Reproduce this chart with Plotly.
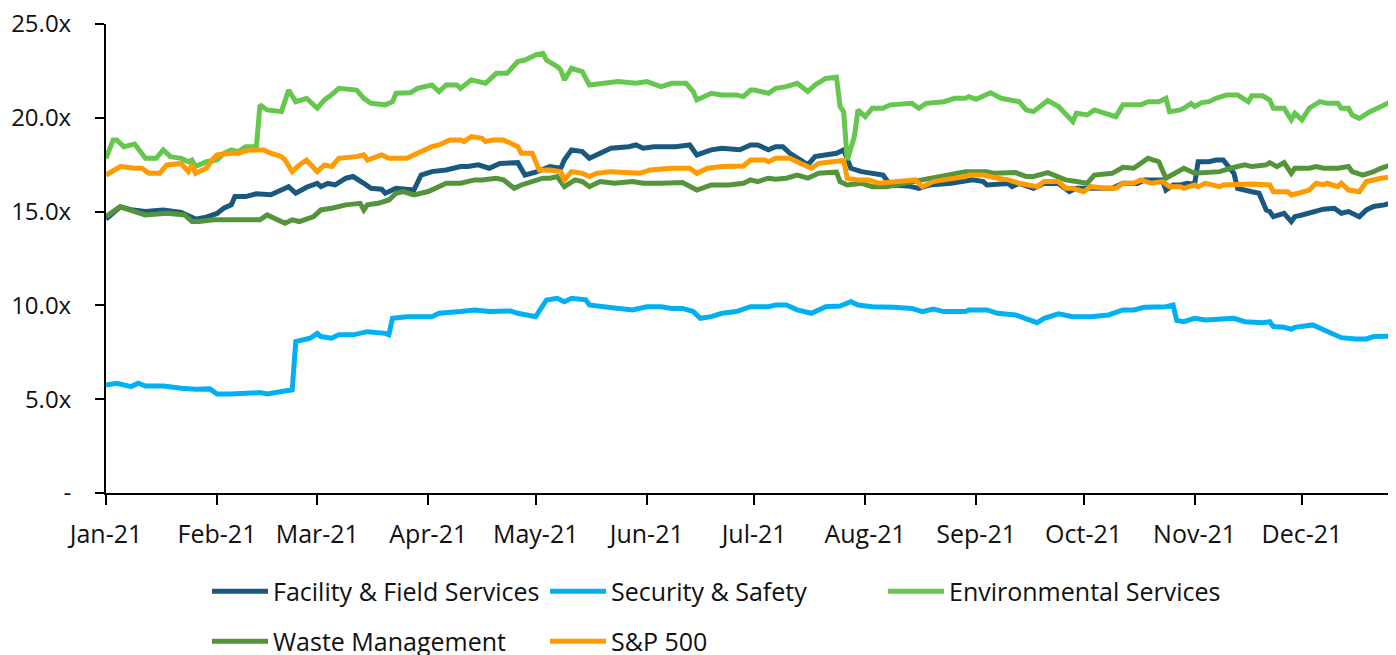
import plotly.graph_objects as go

# ---------------- data ----------------
ffs_dates = ["01-01","01-05","01-08","01-12","01-17","01-22","01-26","01-29","02-01","02-03","02-05","02-06","02-09","02-12","02-16","02-21","02-23","02-26","03-01","03-02","03-04","03-06","03-09","03-11","03-14","03-16","03-19","03-20","03-23","03-28","03-30","04-02","04-06","04-10","04-12","04-15","04-18","04-21","04-26","04-28","05-01","05-05","05-08","05-09","05-11","05-14","05-16","05-19","05-22","05-27","05-29","05-31","06-03","06-09","06-13","06-15","06-19","06-22","06-27","06-30","07-02","07-05","07-07","07-09","07-11","07-14","07-16","07-18","07-21","07-24","07-26","07-28","07-31","08-03","08-06","08-08","08-13","08-16","08-19","08-25","08-29","08-31","09-03","09-04","09-10","09-11","09-13","09-17","09-20","09-24","09-27","09-29","10-09","10-12","10-16","10-18","10-23","10-24","10-26","10-28","10-30","11-01","11-02","11-05","11-07","11-09","11-12","11-13","11-17","11-19","11-21","11-22","11-23","11-26","11-28","11-29","12-01","12-04","12-07","12-10","12-12","12-14","12-16","12-17","12-19","12-21","12-24","12-27"]
ffs_vals = [14.6,15.25,15.1,15.0,15.09,14.95,14.6,14.7,14.9,15.2,15.36,15.8,15.8,15.95,15.9,16.33,15.98,16.3,16.5,16.33,16.5,16.42,16.78,16.87,16.51,16.24,16.19,15.98,16.24,16.15,16.95,17.13,17.22,17.4,17.4,17.49,17.31,17.57,17.61,16.95,17.1,17.4,17.31,17.75,18.29,18.2,17.84,18.11,18.38,18.46,18.55,18.38,18.46,18.46,18.55,18.02,18.29,18.38,18.3,18.55,18.55,18.29,18.46,18.46,18.11,17.75,17.49,17.93,18.02,18.11,18.29,17.31,17.13,17.04,16.95,16.42,16.37,16.24,16.42,16.51,16.6,16.69,16.6,16.42,16.5,16.33,16.5,16.24,16.51,16.5,16.06,16.24,16.24,16.51,16.5,16.69,16.69,16.15,16.42,16.42,16.51,16.45,17.66,17.66,17.75,17.75,17.04,16.24,16.06,15.98,15.09,15.0,14.73,14.91,14.47,14.73,14.82,15.0,15.13,15.18,14.91,15.0,14.82,14.73,15.09,15.27,15.36,15.53]

sec_dates = ["01-01","01-04","01-08","01-10","01-12","01-17","01-22","01-26","01-30","02-01","02-05","02-10","02-13","02-15","02-19","02-22","02-23","02-27","03-01","03-02","03-05","03-07","03-11","03-15","03-20","03-21","03-22","03-26","04-02","04-04","04-10","04-14","04-18","04-24","04-26","04-29","05-01","05-04","05-07","05-09","05-11","05-15","05-16","05-20","05-24","05-28","06-01","06-05","06-08","06-11","06-14","06-16","06-19","06-22","06-26","06-30","07-05","07-07","07-10","07-13","07-17","07-21","07-25","07-28","07-30","08-03","08-09","08-14","08-17","08-20","08-23","08-29","08-30","09-04","09-07","09-12","09-18","09-20","09-24","09-28","10-03","10-08","10-12","10-15","10-18","10-24","10-26","10-27","10-29","11-01","11-04","11-08","11-12","11-15","11-20","11-22","11-23","11-26","11-28","11-29","12-04","12-07","12-09","12-12","12-16","12-19","12-21","12-27"]
sec_vals = [5.76,5.85,5.67,5.85,5.7,5.7,5.58,5.53,5.55,5.28,5.28,5.35,5.35,5.28,5.41,5.5,8.07,8.25,8.51,8.34,8.25,8.43,8.43,8.6,8.51,8.43,9.31,9.4,9.4,9.58,9.67,9.76,9.67,9.7,9.58,9.49,9.4,10.29,10.38,10.2,10.38,10.3,10.02,9.93,9.84,9.76,9.93,9.93,9.84,9.84,9.67,9.31,9.4,9.58,9.67,9.93,9.93,10.02,10.02,9.76,9.58,9.93,9.97,10.2,10.02,9.93,9.9,9.84,9.67,9.8,9.67,9.67,9.76,9.76,9.58,9.49,9.08,9.31,9.55,9.4,9.4,9.49,9.76,9.76,9.9,9.93,10.02,9.2,9.13,9.31,9.22,9.25,9.31,9.13,9.08,9.13,8.87,8.83,8.73,8.83,8.96,8.7,8.51,8.28,8.21,8.21,8.34,8.37]

env_dates = ["01-01","01-03","01-04","01-06","01-09","01-12","01-15","01-17","01-19","01-22","01-24","01-25","01-26","01-29","02-01","02-03","02-05","02-07","02-09","02-12","02-13","02-15","02-19","02-21","02-23","02-26","03-01","03-03","03-05","03-07","03-12","03-14","03-16","03-20","03-22","03-23","03-27","03-29","04-02","04-04","04-06","04-09","04-10","04-13","04-17","04-20","04-23","04-26","04-28","05-01","05-03","05-04","05-07","05-08","05-09","05-11","05-14","05-16","05-20","05-24","05-29","06-01","06-05","06-08","06-12","06-14","06-15","06-19","06-22","06-26","06-28","06-30","07-01","07-05","07-07","07-10","07-13","07-16","07-18","07-21","07-24","07-25","07-26","07-27","07-29","07-30","08-01","08-03","08-06","08-08","08-14","08-16","08-18","08-23","08-26","08-29","08-30","09-01","09-05","09-08","09-13","09-15","09-17","09-21","09-24","09-26","09-28","09-29","10-02","10-04","10-08","10-10","10-12","10-17","10-19","10-22","10-24","10-25","10-28","10-29","10-31","11-01","11-03","11-05","11-07","11-10","11-13","11-16","11-17","11-20","11-22","11-23","11-26","11-28","11-29","12-01","12-03","12-06","12-08","12-11","12-12","12-14","12-15","12-17","12-20","12-22","12-25","12-27"]
env_vals = [17.84,18.82,18.82,18.46,18.6,17.84,17.84,18.29,17.93,17.84,17.66,17.75,17.4,17.66,17.75,18.11,18.29,18.2,18.46,18.46,20.69,20.42,20.33,21.48,20.86,21.04,20.51,20.95,21.22,21.57,21.48,21.04,20.77,20.69,20.86,21.31,21.34,21.57,21.75,21.4,21.75,21.75,21.57,22.02,21.84,22.37,22.37,23.0,23.08,23.35,23.44,23.08,22.73,22.55,22.02,22.64,22.46,21.75,21.84,21.93,21.84,21.93,21.66,21.84,21.84,21.4,20.95,21.31,21.22,21.22,21.13,21.48,21.48,21.31,21.57,21.66,21.84,21.4,21.75,22.1,22.16,20.6,20.33,17.75,19.0,20.42,20.06,20.51,20.51,20.69,20.77,20.51,20.77,20.86,21.04,21.04,21.13,20.99,21.34,21.04,20.86,20.42,20.33,20.92,20.6,20.15,19.8,20.24,20.15,20.42,20.15,20.06,20.69,20.69,20.86,20.86,21.04,20.33,20.42,20.51,20.77,20.6,20.81,20.86,21.04,21.22,21.22,20.86,21.17,21.17,20.95,20.51,20.51,19.89,20.24,19.89,20.51,20.86,20.77,20.77,20.51,20.51,20.15,19.97,20.33,20.51,20.77,21.04]

wm_dates = ["01-01","01-05","01-09","01-12","01-18","01-23","01-25","01-27","01-31","02-05","02-13","02-15","02-20","02-22","02-24","02-28","03-02","03-05","03-09","03-13","03-14","03-15","03-18","03-21","03-23","03-25","03-28","04-01","04-03","04-06","04-10","04-14","04-16","04-20","04-22","04-25","04-27","05-01","05-03","05-05","05-07","05-09","05-12","05-14","05-16","05-19","05-23","05-28","05-31","06-05","06-11","06-15","06-19","06-24","06-28","06-30","07-02","07-05","07-07","07-10","07-13","07-16","07-19","07-22","07-24","07-25","07-27","07-31","08-03","08-07","08-17","08-21","08-27","08-29","08-31","09-04","09-06","09-12","09-15","09-17","09-21","09-24","09-26","09-29","10-02","10-04","10-09","10-12","10-15","10-19","10-22","10-24","10-27","10-29","11-01","11-05","11-08","11-11","11-15","11-17","11-21","11-22","11-24","11-26","11-28","11-29","12-03","12-05","12-07","12-11","12-14","12-15","12-18","12-21","12-23","12-27"]
wm_vals = [14.73,15.27,15.0,14.82,14.91,14.82,14.47,14.47,14.56,14.56,14.56,14.82,14.38,14.56,14.47,14.73,15.09,15.18,15.36,15.44,15.09,15.36,15.44,15.62,15.98,16.07,15.89,16.07,16.24,16.51,16.51,16.69,16.69,16.78,16.69,16.24,16.42,16.69,16.78,16.78,16.87,16.33,16.69,16.6,16.33,16.6,16.51,16.6,16.51,16.51,16.55,16.15,16.42,16.42,16.51,16.69,16.6,16.78,16.73,16.78,16.95,16.78,17.04,17.08,17.1,16.6,16.42,16.51,16.33,16.33,16.69,16.87,17.04,17.13,17.13,17.13,17.04,17.08,16.87,16.87,17.08,16.87,16.69,16.6,16.51,16.95,17.04,17.36,17.31,17.84,17.66,16.78,17.13,17.31,17.04,17.08,17.13,17.31,17.49,17.4,17.49,17.61,17.4,17.61,17.04,17.31,17.31,17.4,17.31,17.31,17.4,17.13,16.95,17.13,17.31,17.57]

sp_dates = ["01-01","01-05","01-09","01-11","01-13","01-16","01-18","01-22","01-24","01-25","01-26","01-29","01-31","02-01","02-05","02-07","02-10","02-14","02-16","02-19","02-20","02-22","02-24","02-26","03-01","03-03","03-05","03-07","03-12","03-14","03-15","03-19","03-21","03-26","03-29","04-02","04-04","04-07","04-10","04-11","04-13","04-16","04-17","04-19","04-22","04-26","04-27","04-30","05-02","05-05","05-08","05-09","05-11","05-14","05-16","05-18","05-22","05-30","06-02","06-08","06-13","06-15","06-18","06-22","06-28","06-30","07-04","07-05","07-07","07-11","07-14","07-17","07-19","07-22","07-26","07-27","07-30","08-02","08-05","08-10","08-15","08-17","08-20","08-23","08-27","08-29","08-30","09-03","09-07","09-10","09-13","09-18","09-20","09-24","09-26","09-28","10-01","10-03","10-07","10-10","10-12","10-15","10-17","10-20","10-23","10-25","10-28","10-29","11-01","11-02","11-04","11-08","11-09","11-17","11-22","11-23","11-27","11-28","11-30","12-03","12-05","12-07","12-08","12-11","12-12","12-14","12-17","12-19","12-23","12-27"]
sp_vals = [16.95,17.4,17.31,17.31,17.04,17.04,17.49,17.57,17.13,17.49,17.04,17.31,17.84,18.02,18.11,18.11,18.29,18.29,18.11,17.93,17.75,17.13,17.49,17.75,17.13,17.49,17.4,17.84,17.93,18.02,17.75,18.02,17.84,17.84,18.11,18.46,18.55,18.82,18.82,18.73,19.0,18.91,18.73,18.82,18.82,18.46,18.11,18.11,17.22,17.22,17.13,16.69,17.13,17.04,16.87,17.04,17.13,17.04,17.22,17.31,17.31,17.04,17.31,17.4,17.43,17.75,17.75,17.66,17.84,17.84,17.57,17.31,17.57,17.66,17.72,16.78,16.69,16.69,16.51,16.6,16.69,16.33,16.6,16.69,16.78,16.87,16.95,16.95,16.78,16.69,16.51,16.33,16.6,16.6,16.24,16.24,16.06,16.33,16.24,16.24,16.51,16.51,16.69,16.51,16.6,16.33,16.33,16.24,16.42,16.33,16.51,16.33,16.42,16.47,16.42,16.06,16.06,15.89,15.98,16.15,16.51,16.42,16.51,16.33,16.51,16.15,16.06,16.6,16.78,16.87]

series_names = ["Facility & Field Services", "Security & Safety", "Environmental Services",
                "Waste Management", "S&P 500"]
series_colors = ["#19587F", "#00B0F0", "#66C74F", "#54943B", "#FF9A00"]
y_tick_vals = [0, 5, 10, 15, 20, 25]
y_tick_text = ["-", "5.0x", "10.0x", "15.0x", "20.0x", "25.0x"]
year = "2021-"

series = [
    (ffs_dates, ffs_vals, "legend"),
    (sec_dates, sec_vals, "legend"),
    (env_dates, env_vals, "legend"),
    (wm_dates, wm_vals, "legend2"),
    (sp_dates, sp_vals, "legend2"),
]

FONT = "Open Sans"
W, H = 1388, 647  # page body adds an 8px offset

fig = go.Figure()
for (dates, vals, leg), name, color in zip(series, series_names, series_colors):
    fig.add_trace(go.Scatter(
        x=[year + d for d in dates], y=vals, name=name, mode="lines",
        line=dict(color=color, width=5), legend=leg,
    ))

x_range = ["2021-01-01", "2021-12-27 06:00"]
ytick_font = dict(family=FONT, size=24, color="#111111")
xtick_font = dict(family=FONT, size=25, color="#111111")
legend_font = dict(family=FONT, size=25, color="#111111")

fig.update_layout(
    width=W, height=H,
    margin=dict(l=98, r=0, t=16, b=162, autoexpand=False),
    paper_bgcolor="white", plot_bgcolor="white",
    font=dict(family=FONT, size=24, color="#111111"),
    xaxis=dict(
        type="date", range=x_range, tick0="2021-01-01", dtick="M1",
        tickformat="%b-%y", showgrid=False, zeroline=False,
        showline=True, linecolor="#000000", linewidth=2,
        ticks="outside", ticklen=10, tickwidth=2, tickcolor="#000000",
        tickfont=xtick_font, ticklabelstandoff=8, ticklabeloverflow="allow",
    ),
    xaxis2=dict(
        type="date", range=x_range, tick0="2021-01-01", dtick="M1",
        overlaying="x", anchor="y", side="bottom", matches="x",
        showgrid=False, zeroline=False, showline=False,
        ticks="inside", ticklen=8, tickwidth=2, tickcolor="#000000",
        showticklabels=False,
    ),
    yaxis=dict(
        range=[0, 25], tickvals=y_tick_vals, ticktext=y_tick_text,
        showgrid=False, zeroline=False,
        showline=True, linecolor="#000000", linewidth=2,
        ticks="outside", ticklen=9, tickwidth=2, tickcolor="#000000",
        tickfont=ytick_font, ticklabelstandoff=19, ticklabeloverflow="allow",
    ),
    legend=dict(
        orientation="h", xref="container", yref="container",
        x=199 / W, y=1 - 560.5 / H, xanchor="left", yanchor="top",
        itemwidth=56, entrywidth=267, font=legend_font,
        bgcolor="rgba(0,0,0,0)", traceorder="normal",
    ),
    legend2=dict(
        orientation="h", xref="container", yref="container",
        x=199 / W, y=1 - 610.5 / H, xanchor="left", yanchor="top",
        itemwidth=56, entrywidth=267, font=legend_font,
        bgcolor="rgba(0,0,0,0)", traceorder="normal",
    ),
    showlegend=True,
)

fig.write_html("out.html", config={"displayModeBar": False})
